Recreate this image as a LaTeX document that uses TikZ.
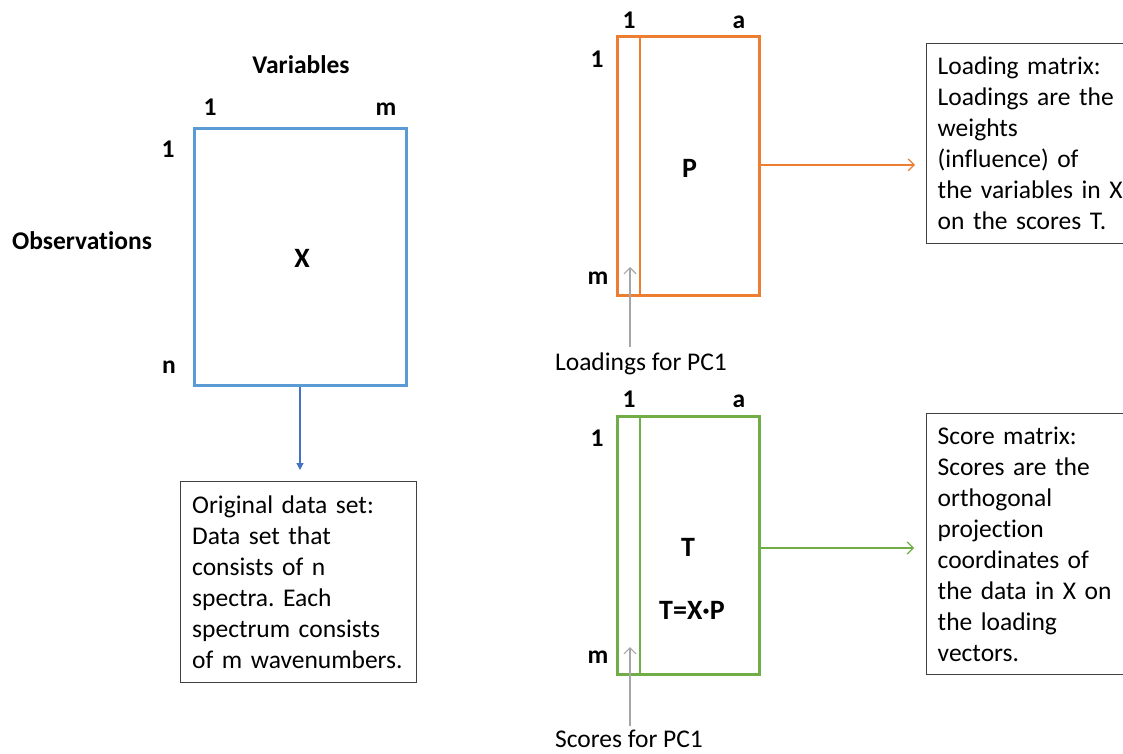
\documentclass[tikz,border=0pt]{standalone}
\usepackage{fontspec}
\setmainfont{Carlito}[Ligatures=NoCommon]
\usetikzlibrary{arrows.meta,calc}
\frenchspacing

\definecolor{xblue}{HTML}{5B9BD5}
\definecolor{arrblue}{HTML}{4472C4}
\definecolor{porange}{HTML}{ED7D31}
\definecolor{tgreen}{HTML}{70AD47}
\definecolor{pcgray}{HTML}{A6A6A6}
\definecolor{boxline}{HTML}{404040}

\tikzset{
  mat/.style={draw, line width=3pt, rectangle, inner sep=0pt},
  idx/.style={font=\fontsize{25.5}{31}\selectfont\bfseries, anchor=base, inner sep=0pt},
  matname/.style={font=\fontsize{28}{34}\selectfont\bfseries, anchor=base, inner sep=0pt},
  desc/.style={draw=boxline, line width=1.4pt, rectangle, anchor=north west,
    align=left, inner xsep=11pt, inner ysep=0pt,
    font=\fontsize{25.5}{31}\selectfont},
  plain/.style={font=\fontsize{25.5}{31}\selectfont, anchor=base, inner sep=0pt},
  openarrow/.style={-{Straight Barb[length=6pt,width=12pt]}, line width=1.2pt},
}

\begin{document}
\begin{tikzpicture}[x=1pt,y=-1pt]
\useasboundingbox (0,0) rectangle (1123,753);
\clip (0,0) rectangle (1123,753);

% ---- data matrix X ----
\node[mat, draw=xblue, minimum width=212pt, minimum height=257pt] (X) at (300,256.5) {};
\node[matname] (xl) at (302,267) {X};
\node[idx] (vars) at (301,73) {Variables};
\node[idx] (obs) at (82,249) {Observations};
\node[idx] (x1c) at (210,115) {1};
\node[idx] (xmc) at (386,115) {m};
\node[idx] (x1r) at (168,157) {1};
\node[idx] (xnr) at (169,373) {n};

\node[desc, minimum width=236pt, minimum height=201pt, text width=213pt] (odesc) at (180,481)
  {Original data set:\\Data set that\\consists of n\\spectra. Each\\spectrum consists\\of m wavenumbers.};
\draw[arrblue, line width=1.2pt, -{Triangle[length=7pt,width=7pt]}, shorten >=11pt]
  (X.south) -- (X.south |- odesc.north);

% ---- loading matrix P ----
\node[mat, draw=porange, minimum width=141.3pt, minimum height=258.3pt] (P) at (688.4,165.9) {};
\draw[porange, line width=2pt] ([xshift=24pt]P.north west) -- ([xshift=24pt]P.south west);
\node[matname] (pl) at (689.5,177) {P};
\node[idx] (p1c) at (629,28) {1};
\node[idx] (pac) at (739,28) {a};
\node[idx] (p1r) at (597,67) {1};
\node[idx] (pmr) at (598,284) {m};

\node[desc, minimum width=222pt, minimum height=200pt, text width=200pt] (pdesc) at (926,43)
  {Loading matrix:\\Loadings are the\\weights\\(influence) of\\the variables in X\\on the scores T.};
\draw[porange, openarrow, shorten >=11pt] ([yshift=1pt]P.east) -- ([yshift=1pt]P.east -| pdesc.west);

\coordinate (lpfoot) at (630,347);
\coordinate (lptip) at (630,267);
\draw[pcgray, openarrow] (lpfoot) -- (lptip);
\node[plain] (lplab) at (641,370) {Loadings for PC1};

% ---- score matrix T ----
\node[mat, draw=tgreen, minimum width=141.3pt, minimum height=258pt] (T) at (688.4,545) {};
\draw[tgreen, line width=2pt] ([xshift=24pt]T.north west) -- ([xshift=24pt]T.south west);
\node[matname] (tl) at (688,556) {T};
\node[matname] (teq) at (692,619) {T=X·P};
\node[idx] (t1c) at (629,407) {1};
\node[idx] (tac) at (739,407) {a};
\node[idx] (t1r) at (597,446) {1};
\node[idx] (tmr) at (598,663) {m};

\node[desc, minimum width=222pt, minimum height=261pt, text width=200pt] (tdesc) at (926,413)
  {Score matrix:\\Scores are the\\orthogonal\\projection\\coordinates of\\the data in X on\\the loading\\vectors.};
\draw[tgreen, openarrow, shorten >=12pt] ([yshift=-3pt]T.east) -- ([yshift=-3pt]T.east -| tdesc.west);

\coordinate (spfoot) at (630,726);
\coordinate (sptip) at (630,647);
\draw[pcgray, openarrow] (spfoot) -- (sptip);
\node[plain] (splab) at (629,747) {Scores for PC1};
\end{tikzpicture}
\end{document}
